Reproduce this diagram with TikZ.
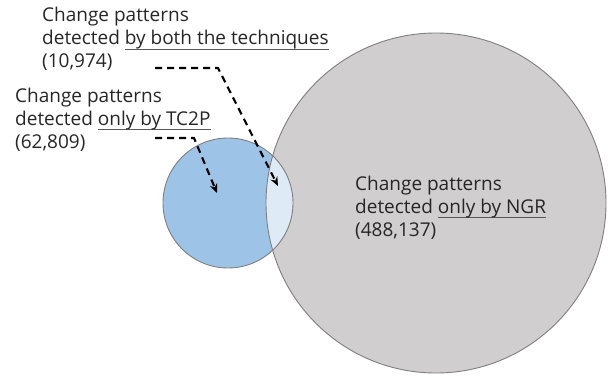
\documentclass[tikz,border=0pt]{standalone}
\usepackage{fontspec}
\setmainfont{Open Sans}
\usetikzlibrary{arrows.meta}
\definecolor{ngrfill}{HTML}{D0CECE}
\definecolor{tcfill}{HTML}{9DC3E6}
\definecolor{bothfill}{HTML}{DEEBF7}
\definecolor{rim}{HTML}{7F7F7F}
\definecolor{ink}{HTML}{262626}
\definecolor{ulcol}{HTML}{595959}
% underline drawn as a thin grey rule just below the descenders
\newcommand\ulin[1]{\setbox0\hbox{#1}\rlap{\textcolor{ulcol}{\rule[-4.5pt]{\wd0}{0.8pt}}}\box0}
\tikzset{
  setlabel/.style={anchor=base west, inner sep=0pt, align=left, text=ink,
    font=\fontsize{19}{23}\selectfont},
  pointer/.style={line width=2.1pt, dash pattern=on 7pt off 5pt,
    -{Stealth[length=9pt,width=7.5pt]}},
  rimline/.style={draw=rim, line width=0.9pt}
}
\begin{document}
\begin{tikzpicture}[x=1pt,y=-1pt]
\useasboundingbox (0,0) rectangle (609,377);
% circles
\coordinate (ngr) at (436,203);
\coordinate (tc) at (228,203);
\fill[ngrfill] (ngr) circle[radius=170];
\fill[tcfill] (tc) circle[radius=65];
\begin{scope}
  \clip (tc) circle[radius=65];
  \fill[bothfill] (ngr) circle[radius=170];
\end{scope}
\draw[rimline] (ngr) circle[radius=170];
\draw[rimline] (tc) circle[radius=65];
% labels (anchored at the baseline of their last line)
\node[setlabel] (lboth) at (42,68) {Change patterns\\detected \ulin{by both the techniques}\\(10,974)};
\node[setlabel] (ltc) at (15,148) {Change patterns\\detected \ulin{only by TC2P}\\(62,809)};
\node[setlabel] (lngr) at (355,236) {Change patterns\\detected \ulin{only by NGR}\\(488,137)};
% pointers
\coordinate (pbs) at (155,68);
\coordinate (pbk) at (218,68);
\coordinate (pbt) at (278,186);
\coordinate (pts) at (155,138);
\coordinate (ptk) at (194,138);
\coordinate (ptt) at (217,193);
\draw[pointer] (pbs) -- (pbk) -- (pbt);
\draw[pointer] (pts) -- (ptk) -- (ptt);
\end{tikzpicture}
\end{document}
